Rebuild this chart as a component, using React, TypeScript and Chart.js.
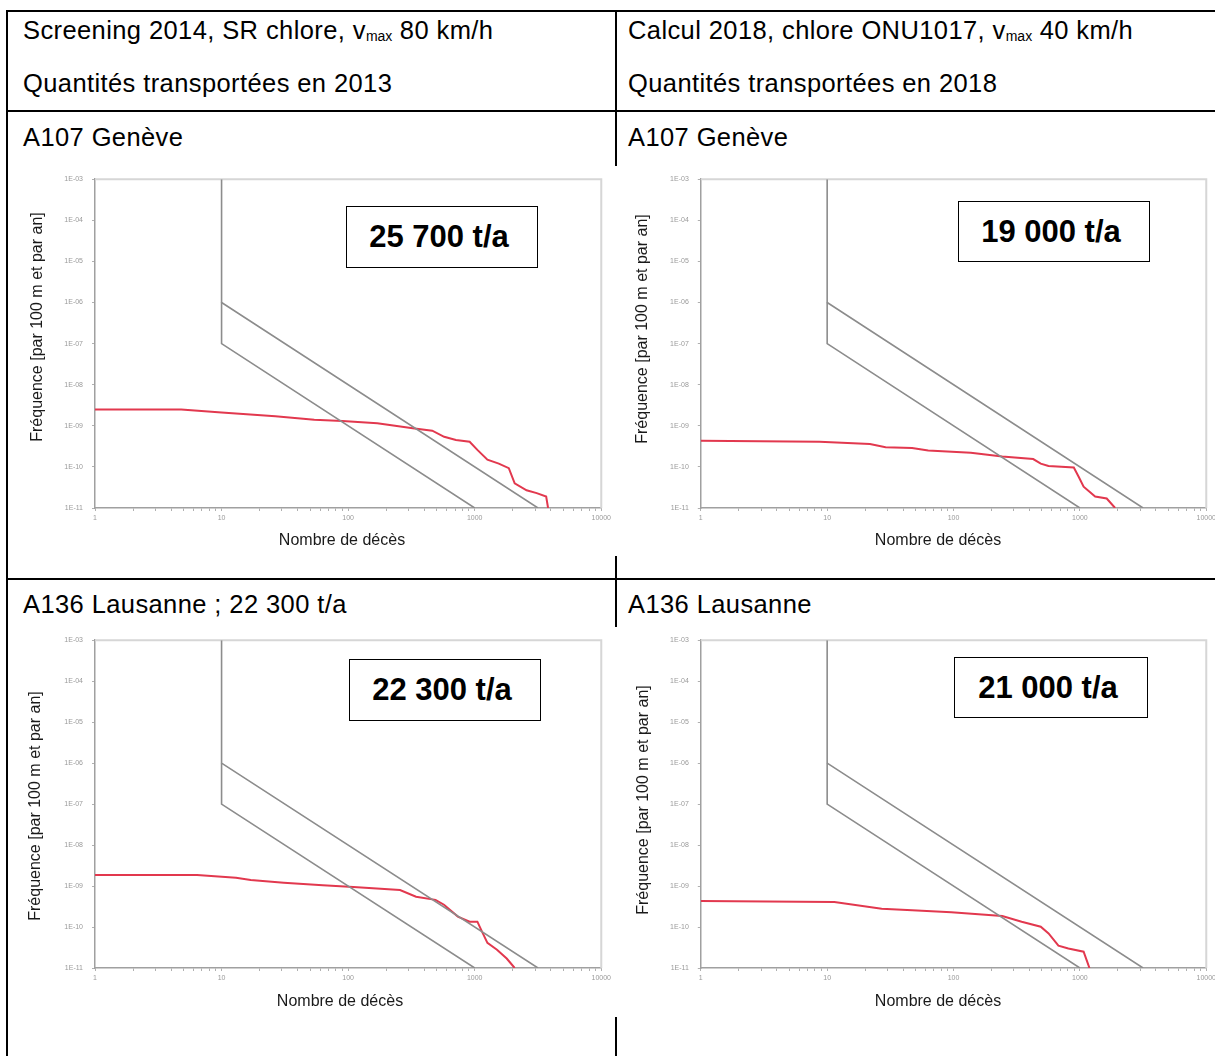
import React, { useEffect, useRef } from "react";
import { Chart, registerables } from "chart.js";

Chart.register(...registerables);

// ---------- axis ticks ----------
const xTickValues = [1, 2, 3, 4, 5, 6, 7, 8, 9, 10, 20, 30, 40, 50, 60, 70, 80, 90, 100, 200, 300, 400, 500, 600, 700, 800, 900, 1000, 2000, 3000, 4000, 5000, 6000, 7000, 8000, 9000, 10000];
const xTickLabelValues = [1, 10, 100, 1000, 10000];
const xTickLabels = ["1", "10", "100", "1000", "10000"];
const yTickValues = [1e-11, 1e-10, 1e-9, 1e-8, 1e-7, 1e-6, 1e-5, 1e-4, 1e-3];
const yTickLabels = ["1E-11", "1E-10", "1E-09", "1E-08", "1E-07", "1E-06", "1E-05", "1E-04", "1E-03"];

const xAxisTitle = "Nombre de décès";
const yAxisTitle = "Fréquence [par 100 m et par an]";

// ---------- criteria lines ----------
const upperLimitX = [10, 10, 3162];
const upperLimitY = [1e-3, 1e-6, 1e-11];
const lowerLimitX = [10, 10, 1000];
const lowerLimitY = [1e-6, 1e-7, 1e-11];

// ---------- F-N curves ----------
const geneve2013X = [1, 4.8, 10, 26.6, 54, 90, 170, 324, 462, 574, 711, 912, 1050, 1260, 1550, 1860, 2070, 2570, 3090, 3670, 3800];
const geneve2013Y = [2.5e-9, 2.5e-9, 2.1e-9, 1.7e-9, 1.4e-9, 1.3e-9, 1.15e-9, 8.7e-10, 7.6e-10, 5.4e-10, 4.5e-10, 4.1e-10, 2.6e-10, 1.5e-10, 1.2e-10, 9.3e-11, 4e-11, 2.7e-11, 2.3e-11, 1.9e-11, 1e-11];

const geneve2018X = [1, 8.7, 21.8, 29, 47, 63, 137, 243, 427, 490, 564, 895, 980, 1070, 1320, 1630, 1900];
const geneve2018Y = [4.3e-10, 4.1e-10, 3.6e-10, 3.0e-10, 2.9e-10, 2.5e-10, 2.2e-10, 1.8e-10, 1.55e-10, 1.2e-10, 1.05e-10, 9.7e-11, 5.7e-11, 3.3e-11, 1.9e-11, 1.7e-11, 1e-11];

const lausanne2013X = [1, 6.4, 13, 17, 31, 63, 110, 257, 344, 490, 572, 736, 912, 1050, 1125, 1260, 1500, 1790, 2070];
const lausanne2013Y = [1.85e-9, 1.85e-9, 1.6e-9, 1.4e-9, 1.2e-9, 1.05e-9, 9.5e-10, 8e-10, 5.5e-10, 4.6e-10, 3.5e-10, 1.8e-10, 1.35e-10, 1.35e-10, 8.5e-11, 4.1e-11, 2.8e-11, 1.7e-11, 1e-11];

const lausanne2018X = [1, 11.4, 27, 47, 96, 243, 346, 490, 565, 676, 810, 1070, 1140, 1190];
const lausanne2018Y = [4.3e-10, 4.1e-10, 2.8e-10, 2.55e-10, 2.3e-10, 1.85e-10, 1.35e-10, 1.02e-10, 7e-11, 3.5e-11, 3e-11, 2.5e-11, 1.45e-11, 1e-11];

const FONT = '"Liberation Sans", Arial, sans-serif';

const framePlugin = {
  id: "frame",
  beforeDatasetsDraw(chart: any) {
    const { ctx, chartArea } = chart;
    ctx.save();
    ctx.strokeStyle = "#d6d6d6";
    ctx.lineWidth = 2;
    ctx.beginPath();
    ctx.moveTo(chartArea.left, chartArea.top);
    ctx.lineTo(chartArea.right, chartArea.top);
    ctx.lineTo(chartArea.right, chartArea.bottom);
    ctx.stroke();
    ctx.restore();
  },
};

function toPoints(xs: number[], ys: number[]) {
  return xs.map((x, i) => ({ x, y: ys[i] }));
}

type ChartProps = {
  left: number;
  top: number;
  width: number;
  height: number;
  areaLeft: number;
  areaTop: number;
  areaRight: number;
  areaBottom: number;
  yTitleX: number;
  yTitleY: number;
  xTitleX: number;
  xTitleY: number;
  curveX: number[];
  curveY: number[];
};

function FNChart(p: ChartProps) {
  const ref = useRef<HTMLCanvasElement>(null);
  useEffect(() => {
    const canvas = ref.current!;
    const titlePlugin = {
      id: "axisTitles",
      afterDraw(chart: any) {
        const { ctx } = chart;
        ctx.save();
        ctx.fillStyle = "#1a1a1a";
        ctx.font = `16px ${FONT}`;
        ctx.textAlign = "center";
        ctx.textBaseline = "middle";
        ctx.fillText(xAxisTitle, p.xTitleX - p.left, p.xTitleY - p.top);
        ctx.translate(p.yTitleX - p.left, p.yTitleY - p.top);
        ctx.rotate(-Math.PI / 2);
        ctx.fillText(yAxisTitle, 0, 0);
        ctx.restore();
      },
    };
    const chart = new Chart(canvas, {
      type: "scatter",
      data: {
        datasets: [
          {
            data: toPoints(upperLimitX, upperLimitY),
            showLine: true,
            borderColor: "#8c8c8c",
            borderWidth: 1.6,
            pointRadius: 0,
          },
          {
            data: toPoints(lowerLimitX, lowerLimitY),
            showLine: true,
            borderColor: "#8c8c8c",
            borderWidth: 1.6,
            pointRadius: 0,
          },
          {
            data: toPoints(p.curveX, p.curveY),
            showLine: true,
            borderColor: "#e2384e",
            borderWidth: 2,
            pointRadius: 0,
          },
        ],
      },
      options: {
        responsive: false,
        animation: false,
        layout: {
          padding: { left: 0, top: p.areaTop, right: p.width - p.areaRight, bottom: 0 },
        },
        plugins: { legend: { display: false }, tooltip: { enabled: false } },
        scales: {
          x: {
            type: "logarithmic",
            min: 1,
            max: 10000,
            afterFit: (s: any) => {
              s.height = p.height - p.areaBottom;
            },
            afterBuildTicks: (s: any) => {
              s.ticks = xTickValues.map((v) => ({ value: v }));
            },
            ticks: {
              autoSkip: false,
              maxRotation: 0,
              minRotation: 0,
              padding: 3,
              color: "#9a9a9a",
              font: { family: FONT, size: 7 },
              callback: (v: any) => {
                const i = xTickLabelValues.indexOf(Number(v));
                return i >= 0 ? xTickLabels[i] : "";
              },
            },
            grid: { drawOnChartArea: false, drawTicks: true, tickLength: 3, color: "#b0b0b0" },
            border: { display: true, color: "#a0a0a0", width: 1.5 },
            title: { display: false },
          },
          y: {
            type: "logarithmic",
            min: 1e-11,
            max: 1e-3,
            afterFit: (s: any) => {
              s.width = p.areaLeft;
            },
            afterBuildTicks: (s: any) => {
              s.ticks = yTickValues.map((v) => ({ value: v }));
            },
            ticks: {
              autoSkip: false,
              padding: 9,
              color: "#9a9a9a",
              font: { family: FONT, size: 7 },
              callback: (v: any) => {
                const lv = Math.log10(Number(v));
                const i = yTickValues.findIndex((t) => Math.abs(Math.log10(t) - lv) < 1e-6);
                return i >= 0 ? yTickLabels[i] : "";
              },
            },
            grid: { drawOnChartArea: false, drawTicks: true, tickLength: 3, color: "#b0b0b0" },
            border: { display: true, color: "#a0a0a0", width: 1.5 },
            title: { display: false },
          },
        },
      },
      plugins: [framePlugin, titlePlugin],
    });
    return () => chart.destroy();
  }, []);
  return (
    <canvas
      ref={ref}
      width={p.width}
      height={p.height}
      style={{ position: "absolute", left: p.left, top: p.top, background: "#fff", display: "block" }}
    />
  );
}

function Text(props: { x: number; cy: number; children: any }) {
  const size = 25.5;
  const lh = Math.round(size * 1.2);
  return (
    <div
      style={{
        position: "absolute",
        left: props.x,
        top: props.cy - lh / 2,
        fontSize: size,
        letterSpacing: "0.4px",
        lineHeight: `${lh}px`,
        whiteSpace: "nowrap",
        color: "#000",
      }}
    >
      {props.children}
    </div>
  );
}

function Box(props: { x1: number; y1: number; x2: number; y2: number; text: string }) {
  return (
    <div
      style={{
        position: "absolute",
        left: props.x1,
        top: props.y1,
        width: props.x2 - props.x1 - 2,
        height: props.y2 - props.y1 - 2,
        border: "1px solid #000",
        background: "#fff",
        display: "flex",
        alignItems: "center",
        justifyContent: "center",
        fontSize: 31,
        fontWeight: "bold",
        whiteSpace: "nowrap",
      }}
    >
      <span style={{ marginRight: 6 }}>{props.text}</span>
    </div>
  );
}

function Line(props: { x: number; y: number; w: number; h: number }) {
  return (
    <div style={{ position: "absolute", left: props.x, top: props.y, width: props.w, height: props.h, background: "#000" }} />
  );
}

const sub = { fontSize: 14, verticalAlign: "-2px", letterSpacing: 0 } as const;

export default function App() {
  return (
    <div
      style={{
        position: "fixed",
        left: 0,
        top: 0,
        width: 1215,
        height: 1056,
        overflow: "hidden",
        background: "#fff",
        fontFamily: FONT,
      }}
    >
      {/* table lines */}
      <Line x={6} y={10} w={1215} h={2} />
      <Line x={6} y={10} w={2} h={1046} />
      <Line x={615} y={10} w={2} h={1046} />
      <Line x={6} y={110} w={1215} h={2} />
      <Line x={6} y={578} w={1215} h={2} />

      {/* header texts */}
      <Text x={23} cy={30}>
        Screening 2014, SR chlore, v<span style={sub}>max</span> 80 km/h
      </Text>
      <Text x={23} cy={83}>Quantités transportées en 2013</Text>
      <Text x={628} cy={30}>
        Calcul 2018, chlore ONU1017, v<span style={sub}>max</span> 40 km/h
      </Text>
      <Text x={628} cy={83}>Quantités transportées en 2018</Text>
      <Text x={23} cy={137}>A107 Genève</Text>
      <Text x={628} cy={137}>A107 Genève</Text>
      <Text x={23} cy={604}>A136 Lausanne ; 22 300 t/a</Text>
      <Text x={628} cy={604}>A136 Lausanne</Text>

      {/* charts */}
      <FNChart left={10} top={166} width={604} height={390} areaLeft={85} areaTop={12.5} areaRight={596.7} areaBottom={342}
        yTitleX={38} yTitleY={327} xTitleX={342} xTitleY={541} curveX={geneve2013X} curveY={geneve2013Y} />
      <FNChart left={613} top={166} width={606} height={390} areaLeft={87.8} areaTop={12.5} areaRight={603} areaBottom={342}
        yTitleX={643} yTitleY={329} xTitleX={938} xTitleY={541} curveX={geneve2018X} curveY={geneve2018Y} />
      <FNChart left={10} top={627} width={604} height={390} areaLeft={85} areaTop={13} areaRight={596.7} areaBottom={341}
        yTitleX={36} yTitleY={806} xTitleX={340} xTitleY={1002} curveX={lausanne2013X} curveY={lausanne2013Y} />
      <FNChart left={613} top={627} width={606} height={390} areaLeft={87.8} areaTop={13} areaRight={603} areaBottom={341}
        yTitleX={644} yTitleY={800} xTitleX={938} xTitleY={1002} curveX={lausanne2018X} curveY={lausanne2018Y} />

      {/* quantity boxes */}
      <Box x1={346} y1={206} x2={538} y2={268} text="25 700 t/a" />
      <Box x1={958} y1={201} x2={1150} y2={262} text="19 000 t/a" />
      <Box x1={349} y1={659} x2={541} y2={721} text="22 300 t/a" />
      <Box x1={954} y1={657} x2={1148} y2={718} text="21 000 t/a" />
    </div>
  );
}
